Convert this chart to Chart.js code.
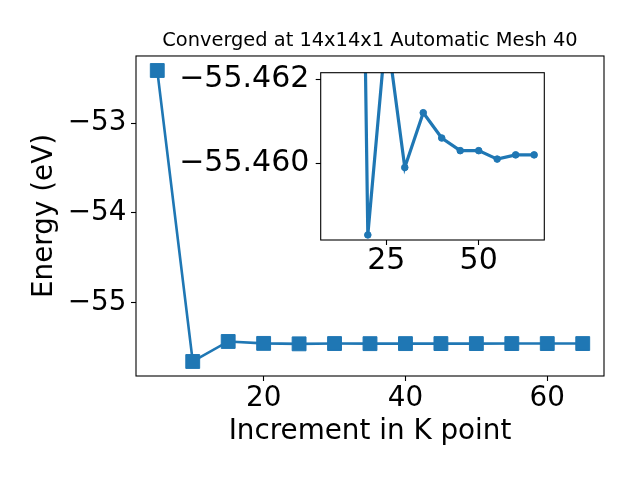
<!DOCTYPE html>
<html><head><meta charset="utf-8">
<script src="https://cdn.jsdelivr.net/npm/chart.js@4/dist/chart.umd.min.js"></script>
<style>
html,body{margin:0;padding:0;background:#fff;}
#wrap{position:relative;width:640px;height:480px;overflow:hidden;}
#main{position:absolute;left:0;top:0;}
#inset{position:absolute;left:160px;top:40px;}
</style></head><body>
<div id="wrap"><canvas id="main" width="640" height="480"></canvas><canvas id="inset" width="410" height="250"></canvas></div>
<script>
const kPoints = [5, 10, 15, 20, 25, 30, 35, 40, 45, 50, 55, 60, 65];
const energies = [-52.414, -55.660, -55.437, -55.4583, -55.4632, -55.4599, -55.4612, -55.4606, -55.4603, -55.4603, -55.4601, -55.4602, -55.4602];
const insetK = [15, 20, 25, 30, 35, 40, 45, 50, 55, 60, 65];
const insetEnergies = [-55.489, -55.4583, -55.4632, -55.4599, -55.4612, -55.4606, -55.4603, -55.4603, -55.4601, -55.4602, -55.4602];
const mainXTicks = [20, 40, 60];
const mainYTicks = [-55, -54, -53];
const insetXTicks = [25, 50];
const insetYTicks = [-55.462, -55.460];
const titleText = 'Converged at 14x14x1 Automatic Mesh 40';
const xLabel = 'Increment in K point';
const yLabel = 'Energy (eV)';

const FONT = 'DejaVu Sans';
const BLUE = '#1f77b4';
Chart.defaults.font.family = FONT;
Chart.defaults.color = '#000';

const minus = s => String(s).replace('-', '\u2212');

const framePlugin = {
  id: 'frame',
  beforeDraw(c) {
    const a = c.chartArea, ctx = c.ctx;
    ctx.save();
    ctx.fillStyle = '#fff';
    ctx.fillRect(a.left, a.top, a.right - a.left, a.bottom - a.top);
    ctx.restore();
  },
  afterDraw(c) {
    const a = c.chartArea, ctx = c.ctx;
    ctx.save();
    ctx.strokeStyle = '#000';
    ctx.lineWidth = 1.1;
    ctx.strokeRect(a.left, a.top, a.right - a.left, a.bottom - a.top);
    ctx.restore();
  }
};

function axisCommon(tickVals, fmt, fontSize, pad) {
  return {
    type: 'linear',
    afterBuildTicks: s => { s.ticks = tickVals.map(v => ({value: v})); },
    ticks: { callback: fmt, font: {size: fontSize, lineHeight: 1}, color: '#000', padding: pad, maxRotation: 0, autoSkip: false },
    grid: { drawOnChartArea: false, drawTicks: true, tickLength: 5, tickColor: '#000', tickWidth: 1.1 },
    border: { display: false }
  };
}

const mainX = axisCommon(mainXTicks, v => minus(v), 27.8, 3.5);
Object.assign(mainX, {
  min: 2, max: 68, position: 'bottom',
  afterFit: s => { s.height = 104; },
  title: { display: true, text: xLabel, font: {size: 27.8, lineHeight: 1.2}, color: '#000', padding: {top: 0, bottom: 32} }
});
const mainY = axisCommon(mainYTicks, v => minus(v), 27.8, 4.6);
Object.assign(mainY, {
  min: -55.822, max: -52.252, position: 'left',
  afterFit: s => { s.width = 136; },
  title: { display: true, text: yLabel, font: {size: 27.8, lineHeight: 1.2}, color: '#000', padding: {top: 28, bottom: 0} }
});

new Chart(document.getElementById('main'), {
  type: 'scatter',
  data: { datasets: [{
    data: kPoints.map((k, i) => ({x: k, y: energies[i]})),
    showLine: true, borderColor: BLUE, backgroundColor: BLUE, borderWidth: 2.6,
    pointStyle: 'rect', pointRadius: 9.8, pointBorderWidth: 1,
    pointBackgroundColor: BLUE, pointBorderColor: BLUE, tension: 0
  }]},
  options: {
    responsive: false, animation: false, devicePixelRatio: 1,
    layout: { padding: {left: 0, right: 36, top: 0, bottom: 0} },
    plugins: {
      legend: {display: false}, tooltip: {enabled: false},
      title: { display: true, text: titleText, fullSize: false, color: '#000',
        font: {size: 19.4, weight: 'normal', lineHeight: 1.2}, padding: {top: 29.5, bottom: 3.2} }
    },
    scales: { x: mainX, y: mainY }
  },
  plugins: [framePlugin]
});

const insX = axisCommon(insetXTicks, v => minus(v), 30, 1.7);
Object.assign(insX, { min: 7.25, max: 67.75, position: 'bottom', afterFit: s => { s.height = 50; } });
const insY = axisCommon(insetYTicks, v => minus(Number(v).toFixed(3)), 30, 6.4);
Object.assign(insY, { min: -55.46215, max: -55.45818, reverse: true, position: 'left', afterFit: s => { s.width = 160.7; } });

new Chart(document.getElementById('inset'), {
  type: 'scatter',
  data: { datasets: [{
    data: insetK.map((k, i) => ({x: k, y: insetEnergies[i]})),
    showLine: true, borderColor: BLUE, backgroundColor: BLUE, borderWidth: 3.2,
    pointStyle: 'circle', pointRadius: 3.3, pointBorderWidth: 1,
    pointBackgroundColor: BLUE, pointBorderColor: BLUE, tension: 0, clip: 0
  }]},
  options: {
    responsive: false, animation: false, devicePixelRatio: 1,
    layout: { padding: {left: 0, right: 25.7, top: 32.7, bottom: 0} },
    plugins: { legend: {display: false}, tooltip: {enabled: false}, title: {display: false} },
    scales: { x: insX, y: insY }
  },
  plugins: [framePlugin]
});
</script>
</body></html>
